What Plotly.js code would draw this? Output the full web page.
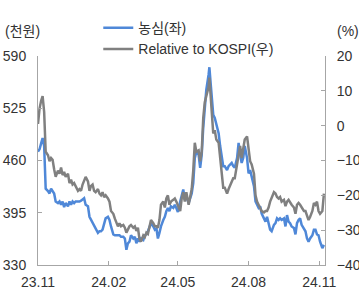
<!DOCTYPE html>
<html>
<head>
<meta charset="utf-8">
<script src="https://cdn.plot.ly/plotly-3.0.1.min.js"></script>
<style>html,body{margin:0;padding:0;background:#fff;}#chart{width:359px;height:289px;}</style>
</head>
<body>
<div id="chart"></div>
<script>
// days since 2023-11-01
const dayOffset = [0,2,4,6,8,10,13,15,17,19,21,23,26,28,30,32,34,36,39,41,43,45,47,49,52,54,56,58,60,62,65,67,69,71,73,75,78,80,82,84,86,88,
91,93,95,98,100,102,104,106,108,111,113,115,117,119,121,124,126,128,130,132,134,137,139,141,143,145,147,150,152,154,156,158,160,163,165,167,169,171,173,176,178,180,182,
185,187,189,191,193,196,198,200,202,204,206,209,211,213,215,217,219,222,223,225,227,228,230,232,235,237,239,241,243,246,248,250,252,254,256,259,261,263,265,267,269,272,274,276,
278,281,283,285,287,289,291,294,296,298,300,302,304,307,309,311,313,315,317,320,322,324,326,328,330,333,335,337,339,341,343,346,348,350,352,354,357,359,361,363,365,367,370,372];

// 농심 share price (천원), left axis
const nongshimPrice = [471,474,481,488,478,425,422,419,425,422,419,409,407,409,405,409,402,407,403,409,405,409,407,409,409,409,410,411,413,405,403,390,386,382,378,376,370,372,372,374,382,388,
390,386,378,368,367,367,367,367,365,365,363,349,357,359,367,363,365,357,363,359,363,361,367,368,372,376,382,378,374,376,363,370,378,386,390,397,401,397,403,401,405,401,396,
409,417,424,411,415,407,413,419,432,463,471,467,451,467,501,532,548,567,576,552,521,517,513,505,494,478,463,453,453,448,453,455,457,453,451,463,482,467,457,463,478,463,444,448,
440,428,409,405,401,403,394,388,384,390,382,374,372,380,382,388,386,388,386,388,378,392,384,382,378,376,368,382,386,388,380,374,372,363,359,363,367,374,374,368,367,359,351,355];

// Relative to KOSPI (%), right axis
const relativeToKospi = [0.5,4.9,7.1,8.5,4.0,-7.5,-8.5,-10.2,-9.3,-9.8,-12.5,-14.7,-12.9,-13.8,-12.0,-14.2,-13.3,-14.7,-13.8,-16.5,-15.5,-16.9,-16.5,-17.3,-18.7,-18.2,-18.7,-16.9,-16.0,-14.7,-16.0,-18.7,-17.3,-16.9,-18.7,-19.1,-18.2,-19.5,-20.0,-19.1,-20.5,-20.0,
-20.9,-21.8,-24.5,-25.3,-26.7,-28.0,-28.9,-28.0,-28.9,-28.5,-29.3,-30.7,-29.8,-28.9,-28.5,-29.3,-28.9,-30.2,-29.3,-32.5,-33.3,-31.5,-32.0,-30.7,-31.1,-29.3,-27.1,-28.0,-28.9,-28.9,-29.3,-27.1,-22.7,-21.8,-23.5,-20.9,-20.0,-22.7,-21.8,-21.3,-20.9,-21.8,-22.7,
-24.5,-20.9,-19.1,-21.8,-19.1,-22.7,-20.0,-18.2,-12.9,-4.9,-7.5,-7.1,-10.2,-7.5,2.2,6.7,8.5,11.1,13.8,7.5,-0.5,-2.2,-1.3,-4.0,-4.9,-9.3,-13.8,-17.8,-17.8,-19.5,-18.2,-17.3,-16.0,-15.1,-15.1,-11.1,-9.3,-5.8,-9.3,-6.7,-4.0,-3.1,-6.7,-10.2,
-11.1,-13.8,-20.0,-21.8,-22.7,-23.5,-24.5,-24.9,-24.5,-24.5,-23.5,-21.8,-20.9,-19.1,-19.5,-20.5,-20.9,-20.5,-21.8,-21.3,-23.1,-21.8,-21.3,-22.2,-22.7,-23.5,-25.3,-22.7,-22.2,-22.7,-23.5,-24.5,-24.5,-26.2,-27.1,-26.2,-24.5,-22.2,-22.7,-21.8,-24.5,-25.3,-24.5,-19.5];

const xTickVals = ['2023-11-01','2024-02-01','2024-05-01','2024-08-01','2024-11-01'];
const xTickText = ['23.11','24.02','24.05','24.08','24.11'];
const leftTicks = [330,395,460,525,590];
const rightTicks = [-40,-30,-20,-10,0,10,20];
const seriesNames = ['농심(좌)','Relative to KOSPI(우)'];

const base = Date.UTC(2023,10,1);
const dates = dayOffset.map(d => new Date(base + d*86400000).toISOString().slice(0,10));

const font = {family:'"Liberation Sans", Arial, "Noto Sans CJK KR", sans-serif', size:14, color:'#333'};
const axisColor = '#a6a6a6';

const traces = [
  {x:dates, y:nongshimPrice, name:seriesNames[0], type:'scatter', mode:'lines', yaxis:'y',
   line:{color:'#4f88d8', width:2.5}},
  {x:dates, y:relativeToKospi, name:seriesNames[1], type:'scatter', mode:'lines', yaxis:'y2',
   line:{color:'#808080', width:2.5}}
];

const layout = {
  width:359, height:289,
  margin:{l:38, r:34, t:40, b:24, pad:0},
  paper_bgcolor:'#fff', plot_bgcolor:'#fff',
  font:font,
  showlegend:true,
  legend:{x:0.21, y:1.21, xanchor:'left', yanchor:'top', orientation:'v',
          bgcolor:'rgba(0,0,0,0)', font:font, tracegroupgap:0},
  xaxis:{type:'date', range:['2023-11-01','2024-11-08 10:00'],
         tickvals:xTickVals, ticktext:xTickText,
         showgrid:false, zeroline:false, showline:true, linecolor:axisColor, linewidth:1,
         ticks:'inside', ticklen:4, tickcolor:axisColor, tickfont:font, ticklabelstandoff:4},
  yaxis:{range:[330,590], tickvals:leftTicks, showgrid:false, zeroline:false,
         showline:true, linecolor:axisColor, linewidth:1,
         ticks:'inside', ticklen:4, tickcolor:axisColor, tickfont:font, ticklabelstandoff:8},
  yaxis2:{range:[-40,20], tickvals:rightTicks, overlaying:'y', side:'right',
          showgrid:false, zeroline:false, showline:true, linecolor:axisColor, linewidth:1,
          ticks:'inside', ticklen:4, tickcolor:axisColor, tickfont:font, ticklabelstandoff:8},
  annotations:[
    {text:'(천원)', xref:'paper', yref:'paper', x:-0.122, y:1.122, xanchor:'left', yanchor:'middle', showarrow:false, font:font},
    {text:'(%)', xref:'paper', yref:'paper', x:1.035, y:1.122, xanchor:'left', yanchor:'middle', showarrow:false, font:font}
  ]
};

Plotly.newPlot('chart', traces, layout, {displayModeBar:false, staticPlot:true});
</script>
</body>
</html>
